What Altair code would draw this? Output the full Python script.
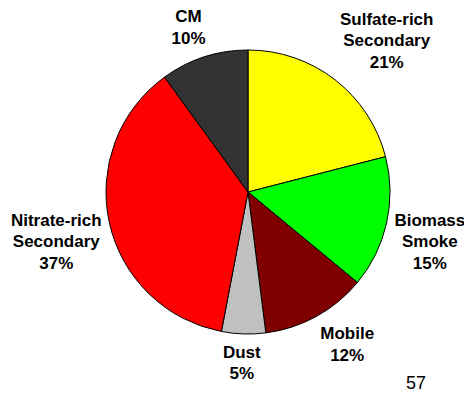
import math
import altair as alt
import pandas as pd

sources = ["Sulfate-rich Secondary", "Biomass Smoke", "Mobile", "Dust", "Nitrate-rich Secondary", "CM"]
label_lines = [["Sulfate-rich", "Secondary"], ["Biomass", "Smoke"], ["Mobile"], ["Dust"],
               ["Nitrate-rich", "Secondary"], ["CM"]]
shares = [21, 15, 12, 5, 37, 10]
colors = ["#FFFF00", "#00FF00", "#800000", "#C0C0C0", "#FF0000", "#333333"]
page_number = "57"

FONT = "Liberation Sans"
FS = 17
CX, CY, R = 240, 184, 142
LH = 21.5
GAP = 8      # distance from the rim to the label anchor point
K = 2.5      # how quickly a label box swings to the side of its anchor

# Approximate bold sans advance widths (per 1000 em), used to size label boxes
GLYPH_W = {"S": 667, "u": 611, "l": 278, "f": 333, "a": 556, "t": 333, "e": 556, "-": 333,
           "r": 389, "i": 278, "c": 556, "h": 611, "o": 611, "n": 611, "d": 611, "y": 556,
           "B": 722, "m": 889, "s": 556, "k": 556, "M": 833, "b": 611, "D": 722, "N": 722,
           "C": 722, "%": 889}


def text_width(t):
    return sum(GLYPH_W.get(ch, 556) for ch in t) * FS / 1000


def clamp(v):
    return max(-1.0, min(1.0, v))


total = sum(shares)
rows = []
cum = 0
for i, (src, lines, s) in enumerate(zip(sources, label_lines, shares)):
    all_lines = lines + [f"{s}%"]
    mid = 2 * math.pi * (cum + s / 2) / total
    cum += s
    hw = max(text_width(t) for t in all_lines) / 2
    hh = len(all_lines) * LH / 2
    # anchor just outside the rim, label box pushed outward from it
    px, py = (R + GAP) * math.sin(mid), -(R + GAP) * math.cos(mid)
    lx = px + hw * clamp(K * math.sin(mid))
    ly = py + hh * clamp(-K * math.cos(mid))
    lang = math.atan2(lx, -ly) % (2 * math.pi)
    row = {"source": src, "share": s, "order": i, "n": len(all_lines),
           "lpos": lang / (2 * math.pi) * total, "lr": math.hypot(lx, ly)}
    for k in range(3):
        row[f"line{k}"] = all_lines[k] if k < len(all_lines) else ""
    rows.append(row)
df = pd.DataFrame(rows)

theta_scale = alt.Scale(domain=[0, total], range=[0, 2 * math.pi])

pie = alt.Chart(df).mark_arc(outerRadius=R, stroke="black", strokeWidth=1).encode(
    theta=alt.Theta("share:Q", stack=True, scale=theta_scale),
    order=alt.Order("order:Q"),
    x=alt.value(CX),
    y=alt.value(CY),
    color=alt.Color("source:N", scale=alt.Scale(domain=sources, range=colors), legend=None),
)

layers = [pie]
for n in (2, 3):
    for k in range(n):
        dy = (k - (n - 1) / 2) * LH
        layers.append(
            alt.Chart(df).transform_calculate(
                txt=f"datum.n == {n} ? datum.line{k} : ''"
            ).mark_text(
                font=FONT, fontSize=FS, fontWeight="bold",
                align="center", baseline="middle", color="black", dy=dy,
            ).encode(
                theta=alt.Theta("lpos:Q", stack=None, scale=theta_scale),
                radius=alt.Radius("lr:Q", stack=None,
                                  scale=alt.Scale(type="linear", domain=[0, 300], range=[0, 300], zero=True)),
                x=alt.value(CX),
                y=alt.value(CY),
                text="txt:N",
            )
        )

pg = alt.Chart(pd.DataFrame({"t": [page_number]})).mark_text(
    font=FONT, fontSize=18, align="center", baseline="alphabetic", color="black"
).encode(x=alt.value(408), y=alt.value(381), text="t:N")
layers.append(pg)

chart = alt.layer(*layers).properties(
    width=456, height=384, padding=0, autosize="none"
).configure_view(strokeWidth=0)

chart.save("out.html", embed_options={"renderer": "svg", "actions": False})
